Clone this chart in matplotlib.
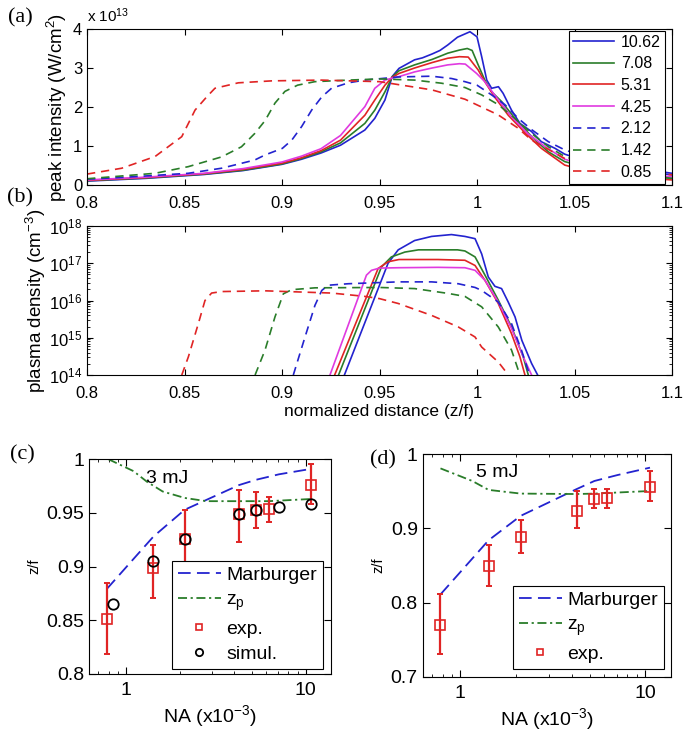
import numpy as np
import matplotlib.pyplot as plt
from matplotlib.ticker import FuncFormatter, LogLocator, NullFormatter

plt.rcParams['font.family'] = ['Liberation Sans', 'DejaVu Sans']
plt.rcParams['mathtext.fontset'] = 'custom'
plt.rcParams['mathtext.rm'] = 'Liberation Sans'
plt.rcParams['mathtext.it'] = 'Liberation Sans:italic'
plt.rcParams['mathtext.default'] = 'regular'
plt.rcParams['xtick.direction'] = 'in'
plt.rcParams['ytick.direction'] = 'in'
plt.rcParams['xtick.top'] = True
plt.rcParams['ytick.right'] = True

# ---- panel (a): peak intensity (x 1e13 W/cm^2) vs z/f ----
labels_na = ['10.62', '7.08', '5.31', '4.25', '2.12', '1.42', '0.85']

a_x_1062 = [0.80, 0.83, 0.86, 0.88, 0.90, 0.91, 0.92, 0.93, 0.9425, 0.9476, 0.9528, 0.9565, 0.96, 0.964,
            0.968, 0.972, 0.977, 0.981, 0.985, 0.990, 0.9964, 1.000, 1.0024, 1.005, 1.0075, 1.011, 1.0134,
            1.0177, 1.022, 1.028, 1.033, 1.040, 1.045, 1.060, 1.080, 1.100]
a_y_1062 = [0.10, 0.17, 0.27, 0.37, 0.53, 0.66, 0.82, 1.02, 1.41, 1.71, 2.18, 2.78, 2.99, 3.10,
            3.21, 3.26, 3.36, 3.45, 3.59, 3.79, 3.93, 3.80, 3.29, 2.69, 2.48, 2.52, 2.35,
            1.92, 1.58, 1.37, 1.11, 0.94, 0.79, 0.55, 0.38, 0.26]

a_x_708 = [0.80, 0.83, 0.86, 0.88, 0.90, 0.91, 0.92, 0.93, 0.9425, 0.9476, 0.9528, 0.9565, 0.96, 0.968,
           0.977, 0.985, 0.991, 0.995, 0.9975, 1.0006, 1.004, 1.0075, 1.0126, 1.0194, 1.028, 1.0366,
           1.045, 1.06, 1.08, 1.10]
a_y_708 = [0.11, 0.18, 0.28, 0.38, 0.54, 0.68, 0.85, 1.08, 1.58, 1.92, 2.39, 2.77, 2.93, 3.08,
           3.22, 3.38, 3.46, 3.50, 3.45, 3.08, 2.69, 2.39, 2.14, 1.71, 1.24, 0.85,
           0.60, 0.40, 0.25, 0.17]

a_x_531 = [0.80, 0.83, 0.86, 0.88, 0.90, 0.91, 0.92, 0.93, 0.9425, 0.9476, 0.9528, 0.9565, 0.96, 0.968,
           0.977, 0.985, 0.991, 0.9955, 1.0006, 1.004, 1.009, 1.016, 1.025, 1.033, 1.045, 1.06, 1.08, 1.10]
a_y_531 = [0.12, 0.19, 0.29, 0.40, 0.56, 0.70, 0.88, 1.15, 1.79, 2.18, 2.56, 2.76, 2.86, 3.00,
           3.14, 3.25, 3.29, 3.28, 2.95, 2.65, 2.26, 1.79, 1.32, 0.94, 0.51, 0.32, 0.20, 0.13]

a_x_425 = [0.80, 0.83, 0.86, 0.88, 0.90, 0.91, 0.92, 0.93, 0.9425, 0.9476, 0.9528, 0.9565, 0.96, 0.968,
           0.977, 0.985, 0.991, 0.994, 0.9998, 1.004, 1.009, 1.0177, 1.026, 1.035, 1.045, 1.06, 1.08, 1.10]
a_y_425 = [0.13, 0.20, 0.30, 0.42, 0.59, 0.74, 0.93, 1.27, 2.01, 2.48, 2.69, 2.74, 2.78, 2.90,
           3.00, 3.08, 3.11, 3.10, 2.86, 2.65, 2.31, 1.75, 1.32, 0.98, 0.66, 0.45, 0.30, 0.21]

a_x_212 = [0.80, 0.82, 0.8519, 0.869, 0.886, 0.8913, 0.9002, 0.905, 0.9101, 0.9152, 0.9204, 0.9254,
           0.934, 0.9425, 0.9596, 0.9767, 0.987, 0.9938, 1.0, 1.0075, 1.0143, 1.0211, 1.028, 1.0366,
           1.045, 1.06, 1.08, 1.10]
a_y_212 = [0.15, 0.20, 0.30, 0.43, 0.64, 0.77, 0.94, 1.15, 1.50, 1.92, 2.26, 2.48,
           2.62, 2.69, 2.77, 2.79, 2.73, 2.65, 2.56, 2.31, 2.06, 1.71, 1.42, 1.11,
           0.90, 0.65, 0.45, 0.30]

a_x_142 = [0.80, 0.8349, 0.8519, 0.869, 0.8792, 0.886, 0.8913, 0.8964, 0.9015, 0.908, 0.9169, 0.934,
           0.95, 0.968, 0.9818, 0.9938, 1.0024, 1.0109, 1.0194, 1.028, 1.0366, 1.045, 1.06, 1.08, 1.10]
a_y_142 = [0.16, 0.30, 0.47, 0.72, 0.98, 1.32, 1.65, 2.10, 2.40, 2.56, 2.65, 2.69,
           2.72, 2.69, 2.61, 2.50, 2.31, 2.06, 1.71, 1.32, 0.98, 0.73, 0.48, 0.30, 0.17]

a_x_085 = [0.80, 0.8178, 0.8349, 0.8486, 0.8554, 0.8614, 0.8656, 0.8776, 0.8947, 0.92, 0.95, 0.9768,
           0.9938, 1.0108, 1.021, 1.028, 1.045, 1.06, 1.08, 1.10]
a_y_085 = [0.28, 0.43, 0.73, 1.24, 1.92, 2.26, 2.48, 2.62, 2.67, 2.69, 2.65, 2.44,
           2.20, 1.80, 1.46, 1.15, 0.68, 0.50, 0.35, 0.26]

# ---- panel (b): plasma density, log10(cm^-3) ----
b_x_1062 = [0.932, 0.9544, 0.9596, 0.968, 0.9767, 0.9869, 0.9938, 0.999, 1.0024, 1.0058, 1.0092,
            1.0126, 1.016, 1.0195, 1.023, 1.028, 1.0311]
b_e_1062 = [14.0, 17.0, 17.36, 17.61, 17.72, 17.77, 17.72, 17.66, 17.25, 16.63, 16.38,
            16.32, 15.96, 15.56, 14.93, 14.31, 14.0]

b_x_708 = [0.929, 0.951, 0.9561, 0.963, 0.97, 0.99, 0.9938, 0.999, 1.0041, 1.0109, 1.0177, 1.0237, 1.0263]
b_e_708 = [14.0, 16.9, 17.17, 17.3, 17.36, 17.36, 17.33, 17.17, 16.68, 16.01, 15.29, 14.49, 14.0]

b_x_531 = [0.927, 0.9493, 0.9544, 0.96, 0.98, 0.9938, 0.999, 1.0041, 1.0109, 1.0177, 1.022, 1.0246]
b_e_531 = [14.0, 16.86, 17.04, 17.1, 17.1, 17.08, 16.94, 16.54, 15.92, 15.11, 14.49, 14.0]

b_x_425 = [0.9246, 0.9433, 0.9459, 0.95, 0.96, 0.98, 0.9938, 0.999, 1.0041, 1.0109, 1.0177, 1.0237, 1.028]
b_e_425 = [14.0, 16.68, 16.81, 16.87, 16.88, 16.89, 16.88, 16.81, 16.54, 15.96, 15.25, 14.49, 14.0]

b_x_212 = [0.9058, 0.9118, 0.9169, 0.9204, 0.9237, 0.934, 0.9596, 0.9767, 0.9904, 0.999, 1.0024,
           1.0109, 1.0177, 1.0228, 1.027]
b_e_212 = [14.0, 15.02, 15.87, 16.27, 16.41, 16.45, 16.5, 16.5, 16.45, 16.35, 16.27,
           15.96, 15.38, 14.67, 14.0]

b_x_142 = [0.8862, 0.8913, 0.8964, 0.9007, 0.905, 0.9169, 0.95, 0.968, 0.9852, 0.9938, 1.0024,
           1.0109, 1.0177, 1.022]
b_e_142 = [14.0, 14.67, 15.56, 16.18, 16.29, 16.34, 16.35, 16.32, 16.19, 16.11, 15.83,
           15.29, 14.67, 14.0]

b_x_085 = [0.8486, 0.852, 0.8571, 0.8605, 0.8639, 0.869, 0.8913, 0.9254, 0.9425, 0.95, 0.9596,
           0.9767, 0.9904, 0.999, 1.0024, 1.0109, 1.0161]
b_e_085 = [14.0, 14.49, 15.38, 16.0, 16.2, 16.24, 16.26, 16.2, 16.11, 16.05, 15.92,
           15.6, 15.29, 15.02, 14.75, 14.35, 14.0]

# ---- panels (c), (d): z/f vs NA ----
na_exp = [0.78, 1.42, 2.12, 4.25, 5.31, 6.2, 10.62]
na_sim = [0.85, 1.42, 2.12, 4.25, 5.31, 7.08, 10.62]
na_marb = [0.78, 1.42, 2.12, 4.25, 5.31, 7.08, 10.62]

c_exp = [0.851, 0.899, 0.926, 0.949, 0.953, 0.954, 0.976]
c_exp_lo = [0.819, 0.871, 0.899, 0.923, 0.936, 0.942, 0.958]
c_exp_hi = [0.885, 0.920, 0.953, 0.971, 0.970, 0.965, 0.996]
c_sim = [0.865, 0.905, 0.926, 0.949, 0.953, 0.956, 0.958]
c_marb = [0.879, 0.928, 0.953, 0.976, 0.981, 0.986, 0.991]
c_na_zp = [0.80, 1.10, 1.31, 1.60, 2.12, 2.8, 4.25, 6.2, 10.62]
c_zp = [1.0, 0.989, 0.979, 0.970, 0.964, 0.961, 0.961, 0.961, 0.963]

d_exp = [0.770, 0.850, 0.888, 0.924, 0.940, 0.9405, 0.956]
d_exp_lo = [0.731, 0.8225, 0.867, 0.900, 0.928, 0.928, 0.937]
d_exp_hi = [0.811, 0.878, 0.911, 0.950, 0.953, 0.953, 0.977]
d_marb = [0.811, 0.884, 0.917, 0.953, 0.964, 0.972, 0.982]
d_na_zp = [0.78, 1.16, 1.42, 2.12, 4.25, 5.31, 10.62]
d_zp = [0.981, 0.964, 0.952, 0.947, 0.9464, 0.947, 0.9505]

BLUE = '#2323cf'
GREEN = '#2a7d2a'
RED = '#e02424'
MAG = '#e03ae0'

W, H = 685, 737


def rect(l, t, r, b):
    return [l / W, 1 - b / H, (r - l) / W, (b - t) / H]


def gfmt(v, pos):
    return '%g' % round(v, 3)


fig = plt.figure(figsize=(W / 100, H / 100), dpi=100)

# (a)
ax_a = fig.add_axes(rect(87, 29, 672, 185))
dash = (5, 3.5)
ax_a.plot(a_x_1062, a_y_1062, color=BLUE, lw=1.2, label=labels_na[0])
ax_a.plot(a_x_708, a_y_708, color=GREEN, lw=1.2, label=labels_na[1])
ax_a.plot(a_x_531, a_y_531, color=RED, lw=1.2, label=labels_na[2])
ax_a.plot(a_x_425, a_y_425, color=MAG, lw=1.2, label=labels_na[3])
ax_a.plot(a_x_212, a_y_212, color=BLUE, lw=1.2, dashes=dash, label=labels_na[4])
ax_a.plot(a_x_142, a_y_142, color=GREEN, lw=1.2, dashes=dash, label=labels_na[5])
ax_a.plot(a_x_085, a_y_085, color=RED, lw=1.2, dashes=dash, label=labels_na[6])
ax_a.set_xlim(0.8, 1.1)
ax_a.set_ylim(0, 4)
ax_a.set_xticks(np.arange(0.8, 1.101, 0.05))
ax_a.set_yticks([0, 1, 2, 3, 4])
ax_a.xaxis.set_major_formatter(FuncFormatter(gfmt))
ax_a.tick_params(labelsize=12, length=4)
ax_a.tick_params(axis='x', pad=8)
ax_a.set_ylabel('peak intensity (W/cm$^2$)', fontsize=13.5, labelpad=3)
leg = ax_a.legend(loc='upper right', bbox_to_anchor=(0.99, 1.0), fontsize=11.5, handlelength=2.6,
                  labelspacing=0.42, borderpad=0.25, handletextpad=0.4, fancybox=False,
                  edgecolor='black', framealpha=1, borderaxespad=0.1)
leg.get_frame().set_linewidth(0.8)
fig.text(87 / W, 1 - 16 / H, 'x 10$^{13}$', fontsize=11, ha='left', va='center')

# (b)
ax_b = fig.add_axes(rect(87, 226, 672, 375))
ax_b.plot(b_x_1062, 10.0 ** np.array(b_e_1062), color=BLUE, lw=1.2)
ax_b.plot(b_x_708, 10.0 ** np.array(b_e_708), color=GREEN, lw=1.2)
ax_b.plot(b_x_531, 10.0 ** np.array(b_e_531), color=RED, lw=1.2)
ax_b.plot(b_x_425, 10.0 ** np.array(b_e_425), color=MAG, lw=1.2)
ax_b.plot(b_x_212, 10.0 ** np.array(b_e_212), color=BLUE, lw=1.2, dashes=dash)
ax_b.plot(b_x_142, 10.0 ** np.array(b_e_142), color=GREEN, lw=1.2, dashes=dash)
ax_b.plot(b_x_085, 10.0 ** np.array(b_e_085), color=RED, lw=1.2, dashes=dash)
ax_b.set_yscale('log')
ax_b.set_xlim(0.8, 1.1)
ax_b.set_ylim(1e14, 1e18)
ax_b.set_xticks(np.arange(0.8, 1.101, 0.05))
ax_b.xaxis.set_major_formatter(FuncFormatter(gfmt))
ax_b.yaxis.set_major_locator(LogLocator(base=10, numticks=10))
ax_b.yaxis.set_minor_locator(LogLocator(base=10, subs=np.arange(2, 10), numticks=20))
ax_b.yaxis.set_minor_formatter(NullFormatter())
ax_b.tick_params(labelsize=12, length=4)
ax_b.tick_params(axis='x', pad=8)
ax_b.tick_params(which='minor', length=2)
ax_b.set_ylabel('plasma density (cm$^{-3}$)', fontsize=13.5, labelpad=1)
ax_b.set_xlabel('normalized distance (z/f)', fontsize=12.5, labelpad=2)


def na_panel(ax, zf_exp, lo, hi, marb, na_zp, zp, sim, ylim, yticks, tag, tagpos):
    ax.plot(na_marb, marb, color=BLUE, lw=1.3, dashes=(7, 3.5), label='Marburger')
    ax.plot(na_zp, zp, color=GREEN, lw=1.3, dashes=(5, 2, 1.2, 2), label='z$_\\mathregular{p}$')
    err = [np.array(zf_exp) - np.array(lo), np.array(hi) - np.array(zf_exp)]
    ax.errorbar(na_exp, zf_exp, yerr=err, fmt='none', ecolor=RED, elinewidth=1.6, capsize=2.2,
                capthick=1.4, zorder=3)
    ax.plot(na_exp, zf_exp, 's', ms=7, mfc='none', mec=RED, mew=1.2, label='exp.', zorder=4)
    if sim is not None:
        ax.plot(na_sim, sim, 'o', ms=7.5, mfc='none', mec='black', mew=1.3, label='simul.', zorder=5)
    ax.set_xscale('log')
    ax.set_xlim(0.625, 13.8)
    ax.set_ylim(*ylim)
    ax.set_yticks(yticks)
    ax.yaxis.set_major_formatter(FuncFormatter(gfmt))
    ax.set_xticks([1, 10])
    ax.set_xticklabels(['1', '10'])
    ax.xaxis.set_minor_locator(LogLocator(base=10, subs=np.arange(2, 10), numticks=20))
    ax.xaxis.set_minor_formatter(NullFormatter())
    ax.tick_params(labelsize=14, length=5)
    ax.tick_params(axis='x', pad=6)
    ax.tick_params(which='minor', length=2.5)
    ax.set_xlabel('NA (x10$^{-3}$)', fontsize=14, labelpad=3)
    ax.set_ylabel('z/f', fontsize=10.5, labelpad=4)
    ax.text(tagpos[0], tagpos[1], tag, transform=ax.transAxes, fontsize=14, ha='center', va='center')
    lg = ax.legend(loc='lower right', fontsize=14, handlelength=2.2, labelspacing=0.38, borderpad=0.3,
                   handletextpad=0.3, fancybox=False, edgecolor='black', framealpha=1,
                   borderaxespad=0, numpoints=1, markerscale=0.7)
    lg.get_frame().set_linewidth(0.8)
    return lg


ax_c = fig.add_axes(rect(89.3, 459.3, 331, 674))
leg_c = na_panel(ax_c, c_exp, c_exp_lo, c_exp_hi, c_marb, c_na_zp, c_zp, c_sim,
                 (0.8, 1.0), [0.8, 0.85, 0.9, 0.95, 1.0], '3 mJ', (0.32, 0.91))
leg_c.set_bbox_to_anchor((0.967, 0.023), transform=ax_c.transAxes)

ax_d = fig.add_axes(rect(422.7, 454.3, 671, 676.7))
leg_d = na_panel(ax_d, d_exp, d_exp_lo, d_exp_hi, d_marb, d_na_zp, d_zp, None,
                 (0.7, 1.0), [0.7, 0.8, 0.9, 1.0], '5 mJ', (0.30, 0.92))
leg_d.set_bbox_to_anchor((0.972, 0.035), transform=ax_d.transAxes)

# panel tags
for x, y, t in [(20, 18, '(a)'), (20, 198, '(b)'), (22, 455, '(c)'), (383, 460, '(d)')]:
    fig.text(x / W, 1 - y / H, t, fontsize=16, family='Liberation Serif', ha='center', va='center')

fig.savefig('out.png', dpi=100)
